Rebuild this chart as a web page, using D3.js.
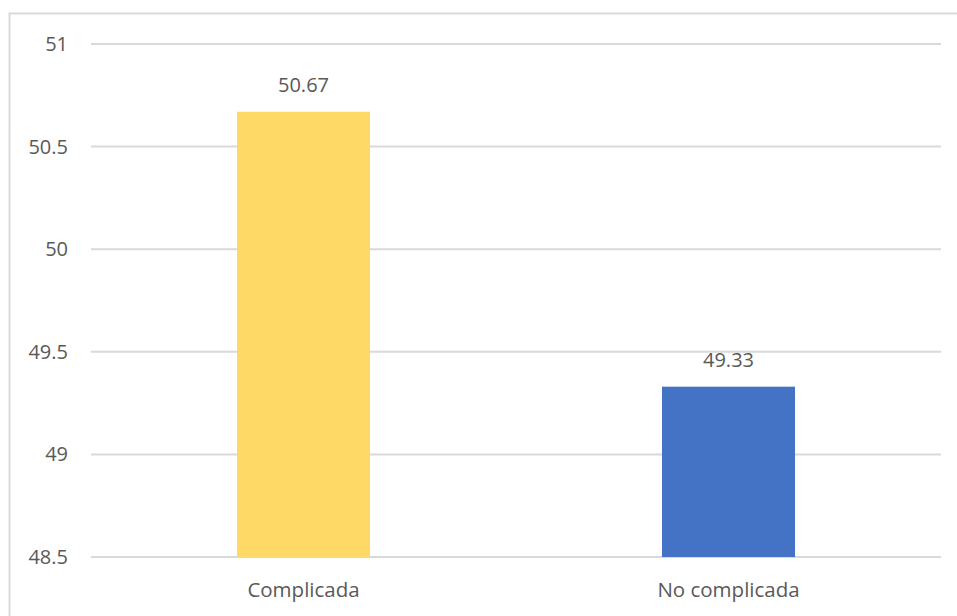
<!DOCTYPE html>
<html>
<head>
<meta charset="utf-8">
<script src="https://cdn.jsdelivr.net/npm/d3@7"></script>
<style>
  html, body { margin: 0; padding: 0; background: #ffffff; }
  svg { display: block; }
  text { font-family: "Open Sans", "Noto Sans", sans-serif; fill: #595959; }
</style>
</head>
<body>
<svg id="chart" width="957" height="616"></svg>
<script>
const categories = ["Complicada", "No complicada"];
const values = [50.67, 49.33];
const valueLabels = ["50.67", "49.33"];
const colors = ["#FFD966", "#4472C4"];
const yTicks = [48.5, 49, 49.5, 50, 50.5, 51];
const yTickLabels = ["48.5", "49", "49.5", "50", "50.5", "51"];

const W = 957, H = 616;
const margin = { left: 91, right: 16, top: 44, bottom: 59 };
const svg = d3.select("#chart");

// chart border
svg.append("rect")
  .attr("x", 9.5).attr("y", 13.5)
  .attr("width", W + 20).attr("height", H + 20)
  .attr("fill", "#ffffff")
  .attr("stroke", "#d9d9d9").attr("stroke-width", 2);

const x = d3.scaleBand()
  .domain(categories)
  .range([margin.left, W - margin.right])
  .paddingInner(0.687).paddingOuter(0.3435);

const y = d3.scaleLinear()
  .domain([48.5, 51])
  .range([H - margin.bottom, margin.top]);

// gridlines
svg.append("g")
  .selectAll("line")
  .data(yTicks)
  .join("line")
  .attr("x1", margin.left).attr("x2", W - margin.right)
  .attr("y1", d => y(d)).attr("y2", d => y(d))
  .attr("stroke", "#d9d9d9").attr("stroke-width", 2);

// y axis labels
const yAxis = d3.axisLeft(y)
  .tickValues(yTicks)
  .tickFormat((d, i) => yTickLabels[i])
  .tickSize(0).tickPadding(0);
const gy = svg.append("g")
  .attr("transform", `translate(${margin.left - 23},0)`)
  .call(yAxis);
gy.select(".domain").remove();
gy.selectAll("text")
  .attr("font-size", 20)
  .attr("fill", "#595959")
  .style("font-family", "'Open Sans', sans-serif");

// bars
svg.append("g")
  .selectAll("rect")
  .data(categories)
  .join("rect")
  .attr("x", d => x(d))
  .attr("width", x.bandwidth())
  .attr("y", (d, i) => y(values[i]))
  .attr("height", (d, i) => y(48.5) - y(values[i]))
  .attr("fill", (d, i) => colors[i]);

// value labels
svg.append("g")
  .selectAll("text")
  .data(categories)
  .join("text")
  .attr("x", d => x(d) + x.bandwidth() / 2)
  .attr("y", (d, i) => y(values[i]) - 20)
  .attr("text-anchor", "middle")
  .attr("font-size", 20)
  .text((d, i) => valueLabels[i]);

// x axis labels
const xAxis = d3.axisBottom(x).tickSize(0).tickPadding(0);
const gx = svg.append("g")
  .attr("transform", `translate(0,${H - margin.bottom + 25})`)
  .call(xAxis);
gx.select(".domain").remove();
gx.selectAll("text")
  .attr("font-size", 20.5)
  .attr("fill", "#595959")
  .style("font-family", "'Open Sans', sans-serif");
</script>
</body>
</html>
